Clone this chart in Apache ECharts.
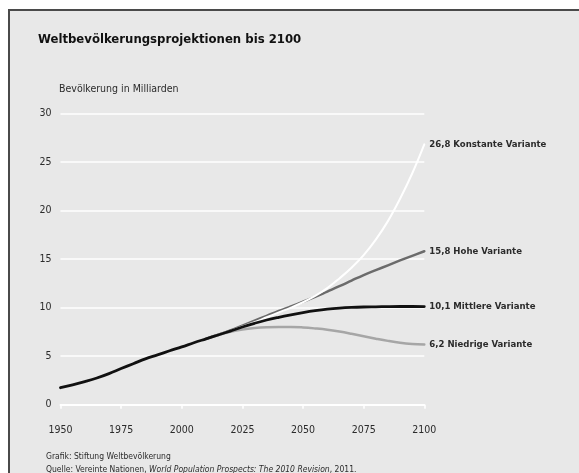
<!DOCTYPE html>
<html>
<head>
<meta charset="utf-8">
<script src="https://cdn.jsdelivr.net/npm/echarts@6/dist/echarts.min.js"></script>
<style>
  html, body { margin: 0; padding: 0; background: #ffffff; overflow: hidden; }
  #frame {
    position: absolute; left: 8px; top: 9px; width: 571px; height: 464px;
    background: #e8e8e8; border-top: 2px solid #4a4a4a; border-left: 2px solid #4a4a4a;
    box-sizing: border-box;
  }
  #chart { position: absolute; left: 0; top: 0; width: 579px; height: 473px; }
</style>
</head>
<body>
<div id="frame"></div>
<div id="chart"></div>
<script>
// Weltbevölkerung in Milliarden, 5-Jahres-Schritte
const years = [1950, 1955, 1960, 1965, 1970, 1975, 1980, 1985, 1990, 1995, 2000, 2005, 2010];

// bisherige Entwicklung bis 2010
const history = [1.75, 2.05, 2.38, 2.75, 3.2, 3.72, 4.22, 4.72, 5.13, 5.55, 5.95, 6.38, 6.78];

// Projektionen ab 2015
const projYears = [2015, 2020, 2025, 2030, 2035, 2040, 2045, 2050, 2055, 2060, 2065, 2070,
                   2075, 2080, 2085, 2090, 2095, 2100];
const mittlere  = [7.18, 7.58, 8.0, 8.38, 8.72, 9.0, 9.25, 9.48, 9.68, 9.84, 9.95, 10.02,
                   10.06, 10.08, 10.1, 10.11, 10.11, 10.1];
const hohe      = [7.2, 7.65, 8.15, 8.65, 9.15, 9.65, 10.12, 10.6, 11.1, 11.65, 12.2, 12.78,
                   13.35, 13.85, 14.35, 14.85, 15.33, 15.8];
const konstante = [7.18, 7.6, 8.05, 8.5, 9.0, 9.5, 10.0, 10.55, 11.2, 12.0, 13.0, 14.1,
                   15.4, 17.0, 18.9, 21.2, 23.8, 26.8];
const niedrige  = [7.15, 7.5, 7.75, 7.9, 7.98, 8.0, 8.0, 7.95, 7.85, 7.72, 7.53, 7.3,
                   7.05, 6.8, 6.57, 6.38, 6.26, 6.2];

const yTicks = [0, 5, 10, 15, 20, 25, 30];
const xTicks = [1950, 1975, 2000, 2025, 2050, 2075, 2100];

const FONT = '"Liberation Sans Narrow", "DejaVu Sans Condensed", "Liberation Sans", sans-serif';
const TEXT = '#2b2b2b';

// Projektion inkl. Anschluss an den letzten historischen Wert
function projection(values) {
  const pts = [[years[years.length - 1], history[history.length - 1]]];
  projYears.forEach((y, i) => pts.push([y, values[i]]));
  return pts;
}
const medianSeries = history.map((v, i) => [years[i], v])
  .concat(projYears.map((y, i) => [y, mittlere[i]]));

function endLabel(name) {
  return {
    show: true,
    distance: 5,
    fontFamily: FONT,
    fontWeight: 'bold',
    fontSize: 9.5,
    color: TEXT,
    formatter: p => p.value[1].toFixed(1).replace('.', ',') + ' ' + name
  };
}

function lineSeries(name, data, color, width, z) {
  return {
    name: name,
    type: 'line',
    data: data,
    smooth: 0.4,
    showSymbol: false,
    symbol: 'none',
    z: z,
    lineStyle: { color: color, width: width, cap: 'round', join: 'round' },
    endLabel: endLabel(name),
    labelLayout: { hideOverlap: false }
  };
}

const chart = echarts.init(document.getElementById('chart'), null, { renderer: 'canvas' });

chart.setOption({
  animation: false,
  backgroundColor: 'transparent',
  grid: { left: 60.5, right: 154.7, top: 113.3, bottom: 68.3, containLabel: false },
  graphic: [
    { type: 'text', left: 38, top: 33,
      style: { text: 'Weltbevölkerungsprojektionen bis 2100', font: 'bold 13px ' + FONT, fill: '#111111' } },
    { type: 'text', left: 59, top: 84,
      style: { text: 'Bevölkerung in Milliarden', font: '10.5px ' + FONT, fill: TEXT } },
    { type: 'text', left: 46, top: 452,
      style: { text: 'Grafik: Stiftung Weltbevölkerung', font: '8.5px ' + FONT, fill: TEXT } },
    { type: 'text', left: 46, top: 465,
      style: {
        text: '{n|Quelle: Vereinte Nationen, }{i|World Population Prospects: The 2010 Revision}{n|, 2011.}',
        rich: {
          n: { font: '8.5px ' + FONT, fill: TEXT },
          i: { font: 'italic 8.5px ' + FONT, fill: TEXT }
        }
      } }
  ],
  xAxis: {
    type: 'value',
    min: xTicks[0],
    max: xTicks[xTicks.length - 1],
    interval: 25,
    axisLine: { show: true, lineStyle: { color: '#ffffff', width: 2 } },
    axisTick: { show: true, inside: false, length: 4, lineStyle: { color: '#ffffff', width: 1.5 } },
    splitLine: { show: false },
    axisLabel: { margin: 20, fontFamily: FONT, fontSize: 10.5, color: TEXT, formatter: v => String(v) }
  },
  yAxis: {
    type: 'value',
    min: yTicks[0],
    max: yTicks[yTicks.length - 1],
    interval: 5,
    axisLine: { show: false },
    axisTick: { show: false },
    splitLine: { show: true, lineStyle: { color: '#ffffff', width: 1.5 } },
    axisLabel: { margin: 9, fontFamily: FONT, fontSize: 10.5, color: TEXT }
  },
  series: [
    lineSeries('Niedrige Variante', projection(niedrige), '#a6a6a6', 2.5, 2),
    lineSeries('Hohe Variante', projection(hohe), '#6b6b6b', 2.5, 3),
    lineSeries('Konstante Variante', projection(konstante), '#ffffff', 2, 4),
    lineSeries('Mittlere Variante', medianSeries, '#111111', 2.8, 5)
  ]
});
</script>
</body>
</html>
